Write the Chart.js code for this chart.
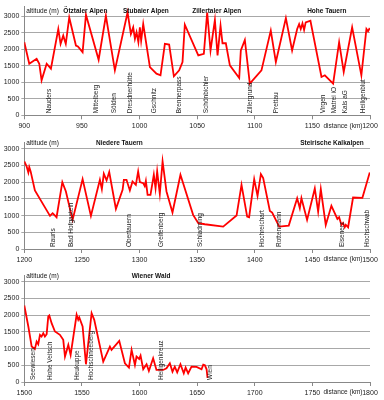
<!DOCTYPE html>
<html><head><meta charset="utf-8">
<script src="https://cdn.jsdelivr.net/npm/chart.js@4/dist/chart.umd.min.js"></script>
<style>
html,body{margin:0;padding:0;background:#fff;width:384px;height:400px;overflow:hidden}
canvas{position:absolute;left:0}
</style></head><body>
<canvas id="c1" width="384" height="133" style="top:0"></canvas>
<canvas id="c2" width="384" height="133" style="top:133px"></canvas>
<canvas id="c3" width="384" height="134" style="top:266px"></canvas>
<script>
// ---- Panel 1: 900-1200 km ----
const km1 = [900,904.3,910.7,913,915,919.4,923.1,929.5,931.5,933.8,936,939,944.8,946.5,950.6,953.5,964.5,970.8,978.6,989.6,992.5,994.5,996,997.4,999,1000.3,1001.4,1003.2,1009,1014.7,1018.2,1022,1025.7,1029.8,1034.4,1037.3,1039.3,1051,1055.8,1058.7,1061.6,1065.4,1067.7,1070.3,1072,1074.9,1078.4,1086.5,1087.9,1091.4,1095.7,1105.8,1113.9,1118.3,1127,1132.4,1136.8,1138.5,1139.9,1141.4,1142.8,1144.2,1148.3,1157.9,1160.8,1168,1173.2,1177.2,1184.5,1192.5,1196.9,1198.3,1199.8];
const alt1 = [2210,1560,1710,1560,1060,1560,1410,2610,2160,2410,2160,2960,2110,2080,1910,3040,1680,3010,1360,3110,2460,2660,2310,2510,2210,2660,2260,2760,1460,1260,1210,2160,2140,1180,1360,1610,2740,1810,1860,3110,1960,2880,1810,2710,2180,2180,1510,1130,1960,2280,960,1360,2560,1610,2940,1960,2610,2760,2610,2780,2580,2810,2860,1160,1210,960,2210,1310,2660,1210,2610,2540,2640];
const places1 = ["Nauders","Mittelberg","Sölden","Dresdnerhütte","Gschnitz","Brennerpass","Schönbichler","Zillergrund","Prettau","Virgen","Matrei iO","Kals aG","Heiligenblut"];
const placeKm1 = [921.7,962.8,977.8,991.6,1012.5,1034.4,1057.5,1095.7,1118.8,1159.3,1168.8,1178.7,1194.5];
const regions1 = ["Ötztaler Alpen","Stubaier Alpen","Zillertaler Alpen","Hohe Tauern"];
const regionKm1 = [953,1005.5,1067,1162.5];

// ---- Panel 2: 1200-1500 km ----
const km2 = [1200,1202,1203.5,1204.3,1205.5,1209.2,1222.3,1224.6,1228,1233,1236.1,1241.9,1250.6,1257.8,1265.6,1267.3,1269,1271.4,1273.7,1279.5,1285.3,1286.4,1288.7,1291.6,1293.9,1296.8,1298.8,1300.3,1303.2,1304.5,1305.5,1307,1309.5,1312.4,1313.9,1315.3,1317.6,1320,1323.4,1328.6,1335.5,1346.5,1351,1356.7,1372.6,1384.2,1388.5,1393.4,1395.1,1399.5,1402.4,1405.3,1407.3,1413.1,1415.1,1421.2,1429.5,1436.8,1439.1,1440.5,1445.4,1452.1,1455,1457.3,1461.6,1466.5,1471.7,1473.2,1475.2,1476.6,1478.1,1479,1481,1485.3,1493.4,1499.8];
const alt2 = [2620,2470,2290,2450,2320,1750,990,1070,950,2000,1720,870,2090,990,2070,1790,2250,2050,2300,1200,1770,2070,2070,1750,2020,1920,2320,2000,1970,1880,2040,1620,1620,2220,1820,2320,1650,2620,1720,1090,2220,1020,770,740,670,1000,1920,970,950,2090,1590,2240,2120,1140,1090,670,700,1520,1220,1520,870,1810,1120,1790,720,1290,900,950,720,780,650,720,650,1540,1530,2290];
const places2 = ["Rauris","Bad Hofgastein","Obertauern","Greifenberg","Schladming","Hochreichart","Rottenmann","Eisenerz","Hochschwab"];
const placeKm2 = [1225.2,1241,1291,1319,1353,1406.7,1420.8,1475.5,1498];
const regions2 = ["Niedere Tauern","Steirische Kalkalpen"];
const regionKm2 = [1282.5,1467];

// ---- Panel 3: 1500-1800 km ----
const km3 = [1500,1503.5,1506.4,1509.2,1510.7,1512.1,1513.6,1515,1516.5,1517.9,1519.4,1520.8,1521.7,1523.7,1526.6,1530.9,1533.8,1535.3,1538.2,1540.2,1545.4,1546.8,1547.7,1550.6,1553.5,1558.4,1560.7,1568.5,1574.3,1575.7,1582.4,1587.3,1590.8,1593.1,1596,1597.4,1599.7,1600.9,1603.2,1606.1,1608.1,1611.8,1614.7,1620.5,1623.4,1626.3,1628.6,1630.6,1632.7,1635.5,1638.4,1640,1642.2,1645.1,1649.5,1653.8,1655.3,1656.7,1658.2,1659];
const alt3 = [2290,1660,1060,990,1210,1130,1410,1360,1460,1360,1430,1960,1990,1760,1510,1410,1260,760,1110,810,2010,1860,1930,1660,530,2060,1860,610,1060,960,1230,560,430,960,510,760,690,790,380,530,330,710,360,360,410,560,310,460,290,530,260,430,260,460,450,380,520,500,380,120];
const places3 = ["Seewiesen","Hohe Veitsch","Heukuppe","Hochschneeberg","Heiligenkreuz","Wien"];
const placeKm3 = [1507.8,1522.3,1546.3,1558.4,1619,1661.6];
const regions3 = ["Wiener Wald"];
const regionKm3 = [1610];

const yTicks = [0,500,1000,1500,2000,2500,3000];
const FONT = "'Liberation Sans', Arial, sans-serif";

function makeChart(id, km, alt, places, placeKm, regions, regionKm, xmin, padTop, ymax, xAxisH){
  const textPlugin = {
    id: 'texts_'+id,
    afterDatasetsDraw(chart){
      const ctx = chart.ctx, xs = chart.scales.x, ys = chart.scales.y, ca = chart.chartArea;
      ctx.save();
      ctx.fillStyle = '#222';
      ctx.font = '6.5px ' + FONT;
      ctx.textAlign = 'left';
      ctx.textBaseline = 'middle';
      places.forEach((p,i)=>{
        const x = xs.getPixelForValue(placeKm[i]);
        ctx.save();
        ctx.translate(x, ca.bottom - 2);
        ctx.rotate(-Math.PI/2);
        ctx.fillText(p, 0, 0);
        ctx.restore();
      });
      const ty = ys.getPixelForValue(3000) - 5;
      ctx.font = '6.5px ' + FONT;
      ctx.fillStyle = '#111';
      ctx.textAlign = 'left';
      ctx.fillText('altitude (m)', ca.left + 2, ty);
      ctx.font = 'bold 6.5px ' + FONT;
      ctx.textAlign = 'center';
      regions.forEach((r,i)=>{
        ctx.fillText(r, xs.getPixelForValue(regionKm[i]), ty);
      });
      ctx.font = '6.5px ' + FONT;
      ctx.fillStyle = '#222';
      ctx.fillText('distance (km)', ca.right - 27, ca.bottom + 10.7);
      ctx.restore();
    }
  };
  return new Chart(document.getElementById(id), {
    type: 'line',
    data: { datasets: [{
      data: km.map((k,i)=>({x:k, y:alt[i]})),
      borderColor: '#ff0000', borderWidth: 1.8, pointRadius: 0, tension: 0, fill: false
    }]},
    options: {
      responsive: false, animation: false, devicePixelRatio: 1,
      layout: { padding: { top: padTop, right: 14, left: 0, bottom: 0 } },
      plugins: { legend: {display:false}, tooltip: {enabled:false} },
      scales: {
        x: {
          type: 'linear', min: xmin, max: xmin + 300,
          ticks: { stepSize: 50, color: '#222', font: {size: 7, family: FONT}, padding: 3, maxRotation: 0, autoSkip: false,
                   callback: v => String(v) },
          grid: { drawOnChartArea: false, drawTicks: true, tickLength: 4, color: '#888' },
          border: { color: '#888', width: 1 },
          afterFit: s => { s.height = xAxisH; }
        },
        y: {
          min: 0, max: ymax,
          ticks: { stepSize: 500, includeBounds: false, color: '#222', font: {size: 7, family: FONT}, padding: 2,
                   callback: v => String(v) },
          afterBuildTicks: s => { s.ticks = yTicks.map(v=>({value:v})); },
          grid: { color: '#a8a8a8', lineWidth: 1, tickLength: 3, drawTicks: true },
          border: { color: '#888', width: 1 },
          afterFit: s => { s.width = 24.3; }
        }
      }
    },
    plugins: [textPlugin]
  });
}

makeChart('c1', km1, alt1, places1, placeKm1, regions1, regionKm1, 900, 5, 3300, 17.7);
makeChart('c2', km2, alt2, places2, placeKm2, regions2, regionKm2, 1200, 9, 3200, 17);
makeChart('c3', km3, alt3, places3, placeKm3, regions3, regionKm3, 1500, 9, 3200, 18);
</script>
</body></html>
